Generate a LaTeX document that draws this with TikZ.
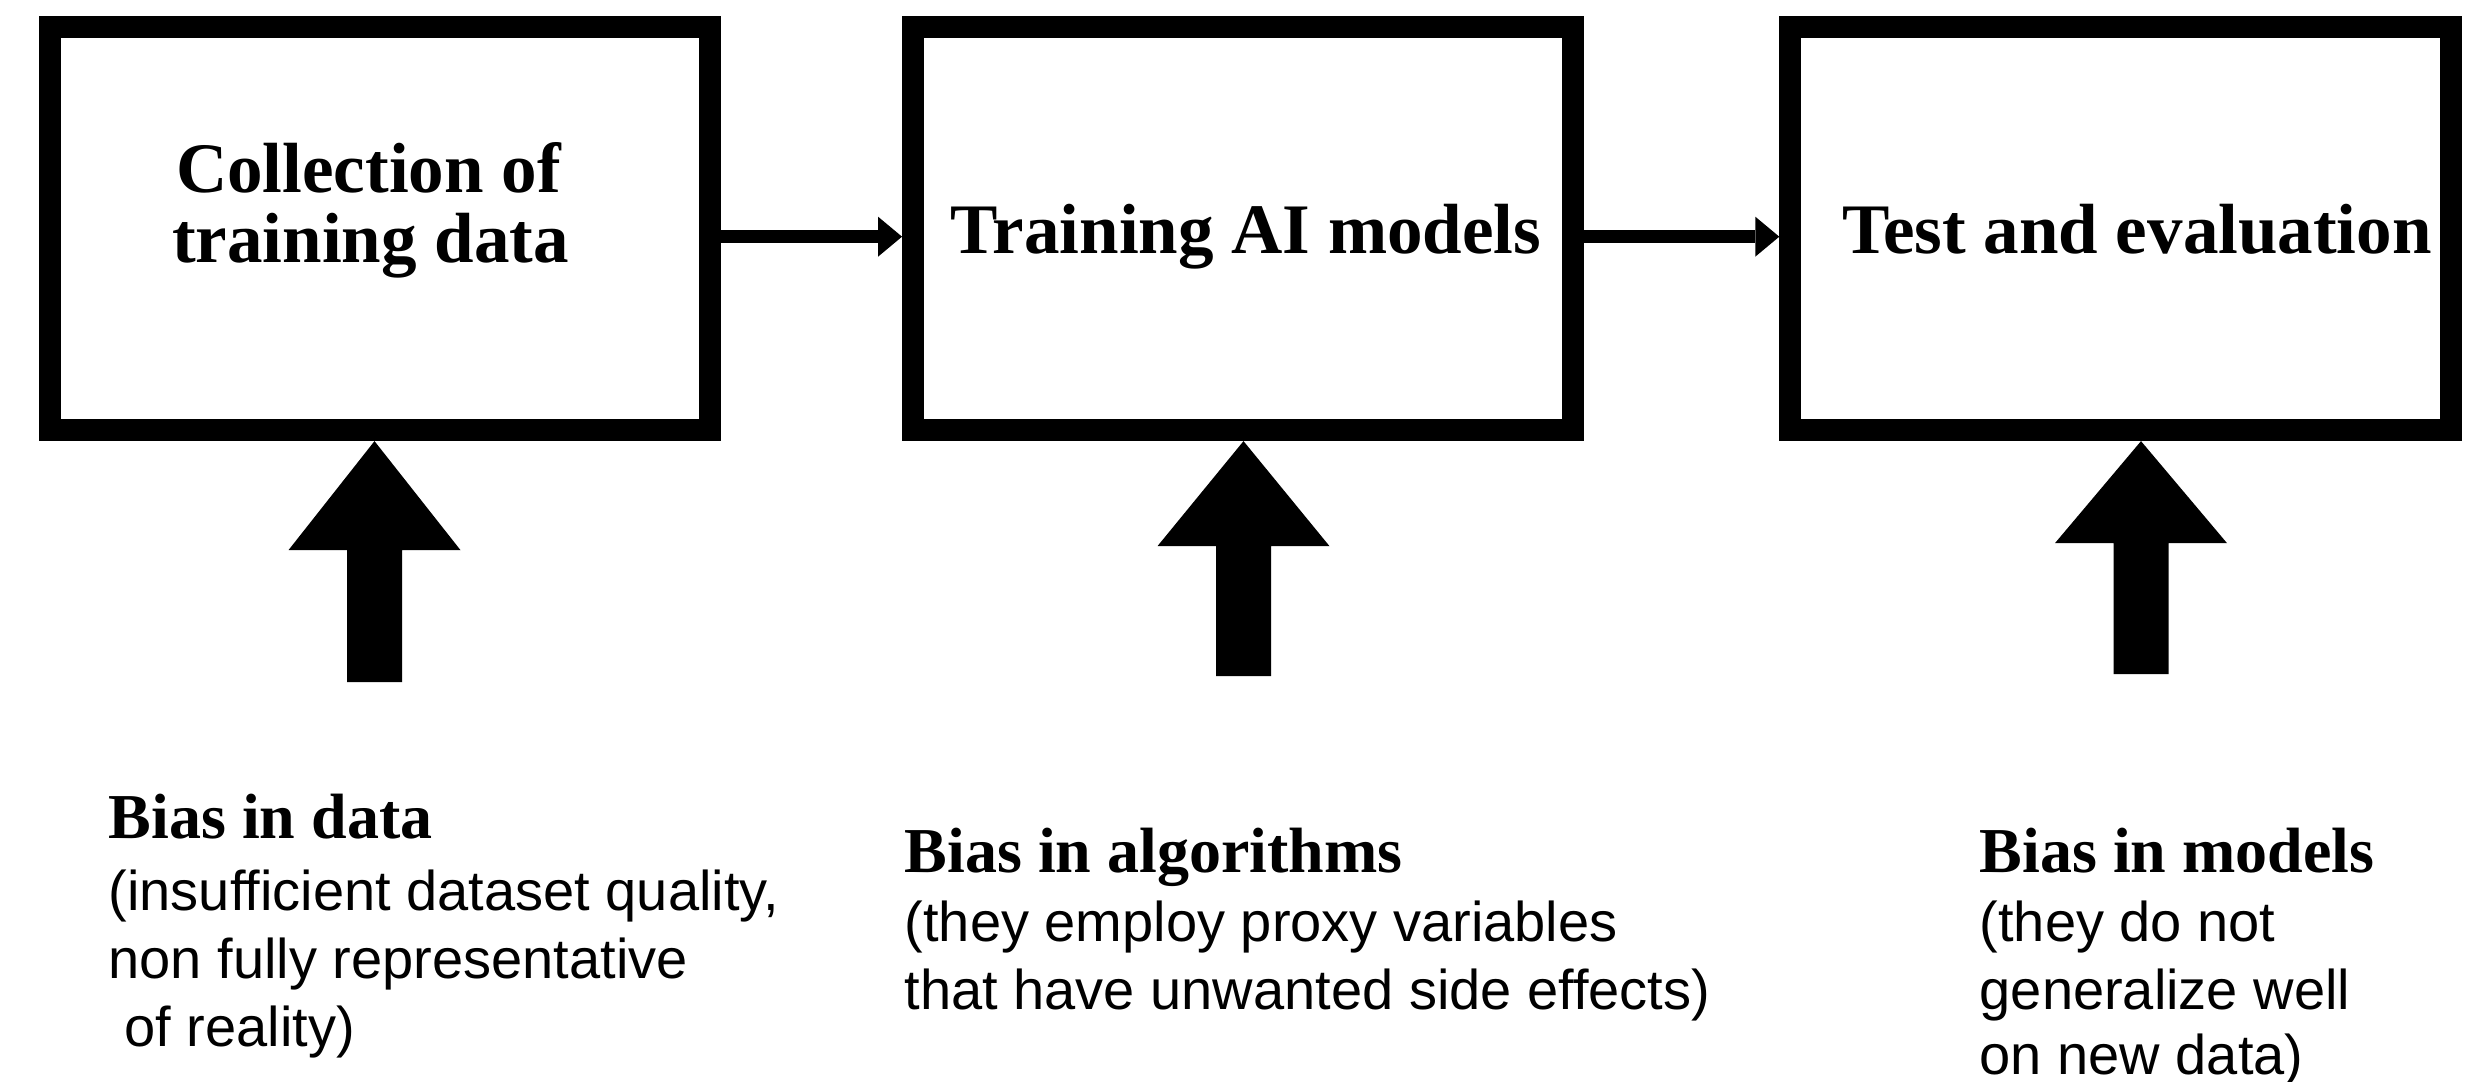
\documentclass[tikz,border=0pt]{standalone}
\usepackage{fontspec}
\setmainfont{Liberation Serif}
\newfontfamily\bodyfont{Liberation Sans}
\usetikzlibrary{arrows.meta}
\begin{document}
\begin{tikzpicture}[x=0.01cm,y=-0.01cm,
  box/.style={draw=black,line width=0.22cm,minimum width=6.6cm,minimum height=4.03cm,inner sep=0pt,outer sep=0.11cm},
  title/.style={font=\fontsize{20.2}{19.9}\selectfont\bfseries,inner sep=0pt,anchor=base},
  head/.style={font=\fontsize{18.2}{19}\selectfont\bfseries,inner sep=0pt,anchor=base west},
  body/.style={font=\bodyfont\fontsize{15.93}{19}\selectfont,inner sep=0pt,anchor=base west},
  link/.style={line width=0.125cm,-{Triangle[length=0.24cm,width=0.40cm,line width=0pt]}},
  bigarrow/.style={fill=black}]
\useasboundingbox (0,0) rectangle (2480,1082);
\fill[white] (0,0) rectangle (2480,1082);

% boxes
\node[box] (b1) at (380.25,228.5) {};
\node[box] (b2) at (1243.25,228.5) {};
\node[box] (b3) at (2120.5,228.5) {};

% box titles
\node[title] (t1a) at (368.5,193) {Collection of};
\node[title] (t1b) at (370.5,263) {training data};
\node[title] (t2) at (1246,254) {Training AI models};
\node[title] (t3) at (2137,254) {Test and evaluation};

% horizontal links
\coordinate (ay) at (0,236.7);
\draw[link] (b1.east |- ay) -- (b2.west |- ay);
\draw[link] (b2.east |- ay) -- (b3.west |- ay);

% big upward arrows
\coordinate (a1) at (374.5,682);
\coordinate (a2) at (1243.5,676);
\coordinate (a3) at (2141,674);
\fill[bigarrow] (b1.south -| a1) -- ++(86,109) -- ++(-58.5,0) -- ++(0,132) -- ++(-55,0) -- ++(0,-132) -- ++(-58.5,0) -- cycle;
\fill[bigarrow] (b2.south -| a2) -- ++(86,105) -- ++(-58.5,0) -- ++(0,130) -- ++(-55,0) -- ++(0,-130) -- ++(-58.5,0) -- cycle;
\fill[bigarrow] (b3.south -| a3) -- ++(86,102) -- ++(-58.5,0) -- ++(0,131) -- ++(-55,0) -- ++(0,-131) -- ++(-58.5,0) -- cycle;

% bias texts
\node[head] (h1) at (108,838) {Bias in data};
\node[body] (d1a) at (108,910) {(insufficient dataset quality,};
\node[body] (d1b) at (108,978) {non fully representative};
\node[body] (d1c) at (124,1046) {of reality)};

\node[head] (h2) at (904,873) {Bias in algorithms};
\node[body] (d2a) at (904,941) {(they employ proxy variables};
\node[body] (d2b) at (904,1009) {that have unwanted side effects)};

\node[head] (h3) at (1979,873) {Bias in models};
\node[body] (d3a) at (1979,941) {(they do not};
\node[body] (d3b) at (1979,1009) {generalize well};
\node[body] (d3c) at (1979,1074) {on new data)};
\end{tikzpicture}
\end{document}
